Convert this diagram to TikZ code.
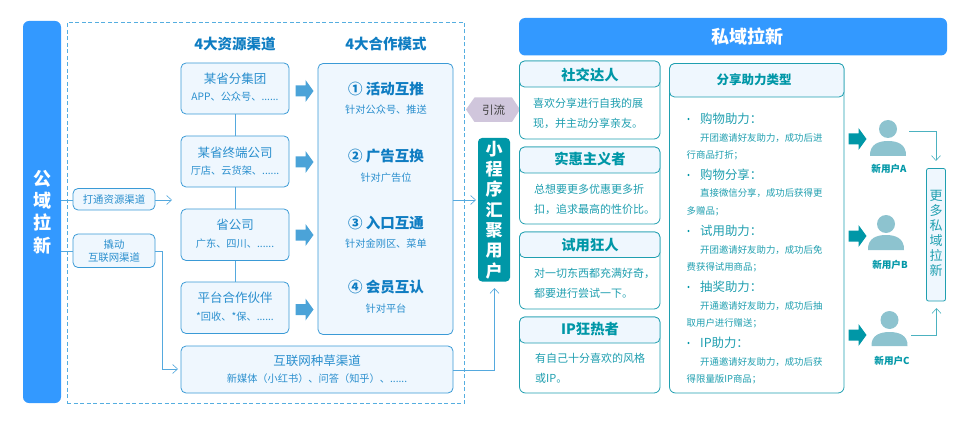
\documentclass[tikz,border=0pt]{standalone}
\usepackage{fontspec}
\setmainfont{Noto Sans CJK SC}
\usetikzlibrary{shapes.geometric,arrows.meta}
\definecolor{barblue}{HTML}{3399FF}
\definecolor{tblue}{HTML}{2A8FCE}
\definecolor{hblue}{HTML}{0F7DC2}
\definecolor{lineblue}{HTML}{3A9AD6}
\definecolor{linelight}{HTML}{55A9DE}
\definecolor{dashblue}{HTML}{55AEE0}
\definecolor{panel}{HTML}{EFF7FE}
\definecolor{arrblue}{HTML}{4BA3D8}
\definecolor{teal1}{HTML}{0097A7}
\definecolor{teal2}{HTML}{1F9FB0}
\definecolor{person}{HTML}{8DC3CF}
\definecolor{hexc}{HTML}{D0C6DC}
\tikzset{
  x=1pt,y=-1pt,
  conn/.style={draw=linelight,line width=.7pt},
  arr/.style={conn,-{Straight Barb[length=5pt,width=9pt,line width=.6pt]}},
  tconn/.style={draw=teal2!80,line width=.7pt},
  tarr/.style={tconn,-{Straight Barb[length=5pt,width=9pt,line width=.6pt]}},
  boxb/.style={draw=lineblue,fill=panel,line width=.8pt,rounded corners=5pt,inner sep=0pt},
  boxt/.style={draw=teal2,fill=white,line width=.8pt,rounded corners=6pt,inner sep=0pt},
  headt/.style={draw=teal2,fill=panel,line width=.8pt,rounded corners=5pt,inner sep=0pt},
  txt/.style={inner sep=0pt,align=center,text=tblue},
  big/.style={txt,font=\fontsize{12.5}{15}\selectfont},
  small/.style={txt,font=\fontsize{10.2}{12}\selectfont},
  tag/.style={txt,font=\fontsize{10.4}{13}\selectfont},
  title/.style={txt,text=hblue,font=\bfseries\fontsize{14.5}{16}\selectfont},
  mode/.style={txt,text=hblue,font=\bfseries\fontsize{14.5}{16}\selectfont},
  ttl/.style={txt,text=teal1,font=\bfseries\fontsize{14.3}{16}\selectfont},
  body/.style={inner sep=0pt,anchor=west,text=teal2,font=\fontsize{11}{13}\selectfont},
  item/.style={inner sep=0pt,anchor=west,text=teal2,font=\fontsize{12.4}{14}\selectfont},
  sub/.style={inner sep=0pt,anchor=west,text=teal2,font=\fontsize{9.4}{12}\selectfont},
  bul/.style={circle,fill=teal1,inner sep=0pt,minimum size=2.2pt},
  uname/.style={inner sep=0pt,text=teal1,font=\bfseries\fontsize{9.6}{12}\selectfont},
  blockb/.style={fill=arrblue,draw=none},
  blockt/.style={fill=teal1,draw=none},
}
% rectangle node from corner to corner
\newcommand{\bx}[6]{%
  \pgfmathsetmacro{\bxw}{#4-#2}\pgfmathsetmacro{\bxh}{#5-#3}%
  \pgfmathsetmacro{\bxx}{(#4+#2)/2}\pgfmathsetmacro{\bxy}{(#5+#3)/2}%
  \node[#6,minimum width=\bxw pt,minimum height=\bxh pt,outer sep=0pt] (#1) at (\bxx,\bxy) {};}
\newcommand{\blockarrow}[3]{% x-left, y-centre, style
  \fill[#3] (#1,#2-5.5) -- (#1+10,#2-5.5) -- (#1+10,#2-11) -- (#1+18,#2) -- (#1+10,#2+11) -- (#1+10,#2+5.5) -- (#1,#2+5.5) -- cycle;}
\newcommand{\usericon}[4]{% cx, heady, bodytop, bodybottom
  \fill[person] (#1,#2) circle (9);
  \fill[person] (#1-18,#4) .. controls (#1-18.5,#3+3) and (#1-9,#3) .. (#1,#3) .. controls (#1+9,#3) and (#1+18.5,#3+3) .. (#1+18,#4) -- cycle;}
\begin{document}
\begin{tikzpicture}
\useasboundingbox (0,0) rectangle (974,422);
% public side
\bx{pub}{23}{21}{61}{403}{fill=barblue,rounded corners=6pt}
\node[inner sep=0pt,align=center,text=white,font=\bfseries\fontsize{18}{22.3}\selectfont] (pubt) at (42,212) {公\\域\\拉\\新};
\bx{dash}{67}{22.5}{464.5}{403}{draw=dashblue,line width=.7pt,dash pattern=on 4pt off 2.5pt}
\node[title] (t1) at (235,44) {4大资源渠道};
\node[title] (t2) at (386,44) {4大合作模式};
% channel boxes
\bx{c1}{181}{63}{289}{114}{boxb}
\bx{c2}{181}{136}{289}{187}{boxb}
\bx{c3}{181}{209}{289}{260.5}{boxb}
\bx{c4}{181}{282}{289}{333.5}{boxb}
\bx{c5}{181}{346}{453}{393}{boxb}
\draw[conn] (c1)--(c2);
\draw[conn] (c2)--(c3);
\draw[conn] (c3)--(c4);
\node[big] (c1a) at (235,79) {某省分集团};
\node[small] (c1b) at (235,97) {APP、公众号、......};
\node[big] (c2a) at (235,153) {某省终端公司};
\node[small] (c2b) at (235,171) {厅店、云货架、......};
\node[big] (c3a) at (235,225) {省公司};
\node[small] (c3b) at (235,244) {广东、四川、......};
\node[big] (c4a) at (235,298) {平台合作伙伴};
\node[small] (c4b) at (235,317) {*回收、*保、......};
\node[big] (c5a) at (317,361) {互联网种草渠道};
\node[small] (c5b) at (317,379) {新媒体（小红书）、问答（知乎）、......};
\blockarrow{295.5}{91}{blockb}
\blockarrow{295.5}{162}{blockb}
\blockarrow{295.5}{235}{blockb}
\blockarrow{295.5}{309.5}{blockb}
% modes
\bx{m}{318}{63.5}{453}{334.5}{boxb}
\node[mode] (m1) at (386,89) {① 活动互推};
\node[small] (m1b) at (386,110) {针对公众号、推送};
\node[mode] (m2) at (386,156) {② 广告互换};
\node[small] (m2b) at (386,177.5) {针对广告位};
\node[mode] (m3) at (386,222.5) {③ 入口互通};
\node[small] (m3b) at (386,244) {针对金刚区、菜单};
\node[mode] (m4) at (386,287.5) {④ 会员互认};
\node[small] (m4b) at (386,308.5) {针对平台};
% tags
\bx{g1}{73}{188.5}{155}{210}{boxb}
\bx{g2}{73}{234}{155}{267.5}{boxb}
\node[tag] (g1t) at (114,200) {打通资源渠道};
\node[tag] (g2t) at (114,251) {撬动\\互联网渠道};
\coordinate (a1) at (172,200);
\coordinate (p1) at (61,200);
\coordinate (p2) at (61,251.5);
\coordinate (a2) at (178,369);
\draw[conn] (p1)--(g1.west |- p1);
\draw[conn] (p2)--(g2.west |- p2);
\draw[arr] (g1.east |- a1)--(a1);
\draw[arr] (g2.east |- p2) -- (162.5,251.5) -- (162.5,369) -- (a2);
% mini programme
\bx{mp}{478}{138}{510}{281.5}{fill=teal1,rounded corners=4pt}
\node[inner sep=0pt,align=center,text=white,font=\bfseries\fontsize{17}{20.3}\selectfont] (mpt) at (494,210) {小\\程\\序\\汇\\聚\\用\\户};
\coordinate (mi) at (476,200);
\draw[arr] (m.east |- mi)--(mi);
\coordinate (mu) at (494.5,288);
\coordinate (cr) at (453,370);
\draw[arr] (cr) -- (494.5,370) -- (mu);
% hexagon
\fill[hexc] (466,109.5) -- (474.5,97.5) -- (512,97.5) -- (520,109.5) -- (512,122) -- (474.5,122) -- cycle;
\node[inner sep=0pt,text=black!75,font=\fontsize{11.5}{13}\selectfont] (yl) at (493.5,110) {引流};
% private side
\bx{pr}{519}{18}{947}{55.5}{fill=barblue,rounded corners=6pt}
\node[inner sep=0pt,text=white,font=\bfseries\fontsize{18}{20}\selectfont] (prt) at (747,36.5) {私域拉新};
% persona cards
\bx{s1}{519.5}{61}{660}{139}{boxt}
\bx{s1h}{519.5}{61}{660}{87}{headt}
\bx{s2}{519.5}{147}{660}{224}{boxt}
\bx{s2h}{519.5}{147}{660}{173}{headt}
\bx{s3}{519.5}{232}{660}{309}{boxt}
\bx{s3h}{519.5}{232}{660}{257.5}{headt}
\bx{s4}{519.5}{317}{660}{393}{boxt}
\bx{s4h}{519.5}{317}{660}{343}{headt}
\node[ttl] (s1t) at (590,75) {社交达人};
\node[ttl] (s2t) at (590,159) {实惠主义者};
\node[ttl] (s3t) at (590,245) {试用狂人};
\node[ttl] (s4t) at (590,329) {IP狂热者};
\node[body] (s1a) at (533,103) {喜欢分享进行自我的展};
\node[body] (s1b) at (533,123) {现，并主动分享亲友。};
\node[body] (s2a) at (534,189) {总想要更多优惠更多折};
\node[body] (s2b) at (534,209) {扣，追求最高的性价比。};
\node[body] (s3a) at (534,273.5) {对一切东西都充满好奇，};
\node[body] (s3b) at (534,293.5) {都要进行尝试一下。};
\node[body] (s4a) at (535,358) {有自己十分喜欢的风格};
\node[body] (s4b) at (535,378) {或IP。};
% share card
\bx{sh}{669.5}{63.5}{844}{393}{boxt}
\bx{shh}{669.5}{63.5}{844}{97}{headt}
\node[ttl,font=\bfseries\fontsize{12.5}{15}\selectfont] (sht) at (754,80) {分享助力类型};
\node[bul] (b1) at (688.5,119) {};
\node[item] (i1) at (700,119) {购物助力：};
\node[sub] (i1a) at (700,138) {开团邀请好友助力，成功后进};
\node[sub] (i1b) at (686.5,155) {行商品打折；};
\node[bul] (b2) at (688.5,175) {};
\node[item] (i2) at (700,175) {购物分享：};
\node[sub] (i2a) at (700,193.5) {直接微信分享，成功后获得更};
\node[sub] (i2b) at (686.5,211) {多赠品；};
\node[bul] (b3) at (688.5,231) {};
\node[item] (i3) at (700,231) {试用助力：};
\node[sub] (i3a) at (700,250) {开团邀请好友助力，成功后免};
\node[sub] (i3b) at (686.5,267) {费获得试用商品；};
\node[bul] (b4) at (688.5,287) {};
\node[item] (i4) at (700,287) {抽奖助力：};
\node[sub] (i4a) at (700,306) {开通邀请好友助力，成功后抽};
\node[sub] (i4b) at (686.5,323) {取用户进行赠送；};
\node[bul] (b5) at (688.5,343) {};
\node[item] (i5) at (700,343) {IP助力：};
\node[sub] (i5a) at (700,362) {开通邀请好友助力，成功后获};
\node[sub] (i5b) at (686.5,379) {得限量版IP商品；};
% users
\blockarrow{848.5}{139}{blockt}
\blockarrow{848.5}{236}{blockt}
\blockarrow{848.5}{335}{blockt}
\usericon{888}{129}{141}{156}
\usericon{886}{224}{235}{250}
\usericon{889.5}{320}{332}{346}
\node[uname] (ua) at (889,169) {新用户A};
\node[uname] (ub) at (890,264.5) {新用户B};
\node[uname] (uc) at (892,361) {新用户C};
\bx{more}{926.5}{168.5}{945.5}{301}{headt,rounded corners=2pt}
\node[inner sep=0pt,align=center,text=teal2,font=\fontsize{13}{15}\selectfont] (moret) at (936,233.5) {更\\多\\私\\域\\拉\\新};
\coordinate (fa) at (909,131);
\coordinate (ta) at (936,161);
\draw[tarr] (fa) -- (fa -| ta) -- (ta);
\coordinate (fc) at (911,335.5);
\coordinate (tc) at (936.5,308);
\draw[tarr] (fc) -- (fc -| tc) -- (tc);
\end{tikzpicture}
\end{document}
